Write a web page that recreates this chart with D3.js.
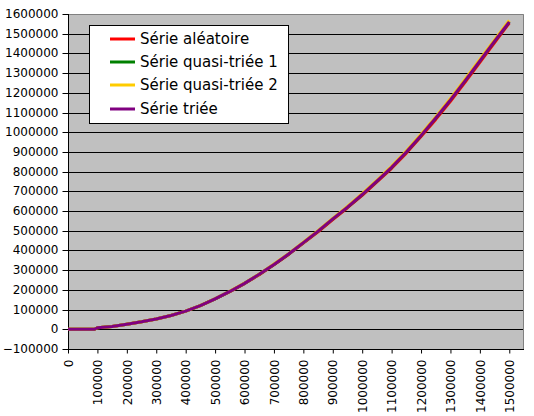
<!DOCTYPE html>
<html><head><meta charset="utf-8">
<script src="https://cdn.jsdelivr.net/npm/d3@7"></script>
<style>body{margin:0;background:#fff}svg{display:block}</style>
</head><body><svg id="c" width="534" height="416"></svg>
<script>
const xValues = [0,50000,90000,100000,150000,200000,250000,300000,350000,400000,450000,500000,550000,600000,650000,700000,750000,800000,850000,900000,950000,1000000,1050000,1100000,1150000,1200000,1250000,1300000,1350000,1400000,1450000,1500000];
const serieAleatoire = [0,0,0,8000,14000,26000,38000,52000,70000,92000,120000,154000,191000,232000,277000,327000,380000,437000,495000,557000,617000,680000,748000,817000,894000,978000,1065000,1157000,1255000,1355000,1455000,1554000];
const serieQuasi1 = [0,0,0,8000,14000,26000,38000,52000,70000,92000,120000,154000,192000,233000,279000,329000,382000,440000,498000,560000,620000,684000,752000,822000,900000,984000,1072000,1164000,1262000,1362000,1462000,1560000];
const serieQuasi2 = [0,0,0,8000,14000,26000,38000,52000,70000,92000,120000,155000,193000,234000,280000,331000,384000,442000,501000,563000,624000,688000,756000,827000,905000,990000,1078000,1171000,1269000,1369000,1469000,1567000];
const serieTriee = [0,0,0,8000,14000,26000,38000,52000,70000,92000,120000,154000,192000,233000,279000,329000,382000,440000,498000,560000,620000,684000,752000,822000,900000,984000,1072000,1164000,1262000,1362000,1462000,1560000];
const seriesNames = ["Série aléatoire","Série quasi-triée 1","Série quasi-triée 2","Série triée"];
const seriesColors = ["#FF0000","#008000","#FFCC00","#800080"];
const xTicks = d3.range(0, 1500001, 100000);
const yTicks = d3.range(-100000, 1600001, 100000);

const svg = d3.select("#c");
const L = 68, R = 524, T = 14, B = 349;
const x = d3.scaleLinear().domain([0, 1550000]).range([L, R]);
const y = d3.scaleLinear().domain([-100000, 1600000]).range([B, T]);

svg.append("rect").attr("x", L).attr("y", T).attr("width", R - L).attr("height", B - T).attr("fill", "#C0C0C0");
svg.append("g").selectAll("line").data(yTicks.filter(v => v > -100000 && v < 1600000)).join("line")
  .attr("x1", L).attr("x2", R).attr("y1", d => Math.round(y(d)) + 0.5).attr("y2", d => Math.round(y(d)) + 0.5)
  .attr("stroke", "#000").attr("stroke-width", 1);
svg.append("path").attr("d", `M${L},${T + 0.5}H${R - 0.5}V${B}`).attr("fill", "none").attr("stroke", "#808080");

const fontAxis = "'DejaVu Sans', Verdana, sans-serif";
const yAxis = svg.append("g").attr("transform", `translate(${L + 0.5},0)`)
  .call(d3.axisLeft(y).tickValues(yTicks).tickSize(6).tickPadding(4).tickFormat(d3.format("d")));
yAxis.select(".domain").remove();
yAxis.append("line").attr("x1", 0).attr("x2", 0).attr("y1", T).attr("y2", B + 4).attr("stroke", "#000");
yAxis.selectAll("text").attr("font-family", fontAxis).attr("font-size", 12).attr("fill", "#000");
yAxis.selectAll(".tick line").attr("stroke", "#000");
yAxis.selectAll(".tick").attr("transform", d => `translate(0,${Math.round(y(d)) + 0.5})`);

const xAxis = svg.append("g").attr("transform", `translate(0,${B + 0.5})`)
  .call(d3.axisBottom(x).tickValues(xTicks).tickSize(4).tickFormat(d3.format("d")));
xAxis.select(".domain").remove();
xAxis.append("line").attr("x1", L).attr("x2", R).attr("y1", 0).attr("y2", 0).attr("stroke", "#000");
xAxis.selectAll(".tick line").attr("stroke", "#000");
xAxis.selectAll("text").attr("font-family", fontAxis).attr("font-size", 12).attr("fill", "#000")
  .attr("transform", "rotate(-90)").attr("text-anchor", "end").attr("x", -10).attr("y", 0).attr("dy", "0.35em");

const seriesData = [serieAleatoire, serieQuasi1, serieQuasi2, serieTriee];
const line = d3.line().x((d, i) => x(xValues[i])).y(d => y(d));
seriesData.forEach((s, k) => {
  svg.append("path").datum(s).attr("d", line).attr("fill", "none")
    .attr("stroke", seriesColors[k]).attr("stroke-width", 3).attr("stroke-linejoin", "round");
});

const lg = svg.append("g");
lg.append("rect").attr("x", 89.5).attr("y", 25.5).attr("width", 199).attr("height", 98)
  .attr("fill", "#fff").attr("stroke", "#000");
const rowsY = [39, 62, 85, 109];
seriesNames.forEach((n, k) => {
  lg.append("line").attr("x1", 110).attr("x2", 135).attr("y1", rowsY[k]).attr("y2", rowsY[k])
    .attr("stroke", seriesColors[k]).attr("stroke-width", 3);
  lg.append("text").attr("x", 140).attr("y", rowsY[k]).attr("dy", "0.35em")
    .attr("font-family", "'Comic Sans MS', 'DejaVu Sans', sans-serif").attr("font-size", 15)
    .attr("fill", "#000").text(n);
});
</script></body></html>
